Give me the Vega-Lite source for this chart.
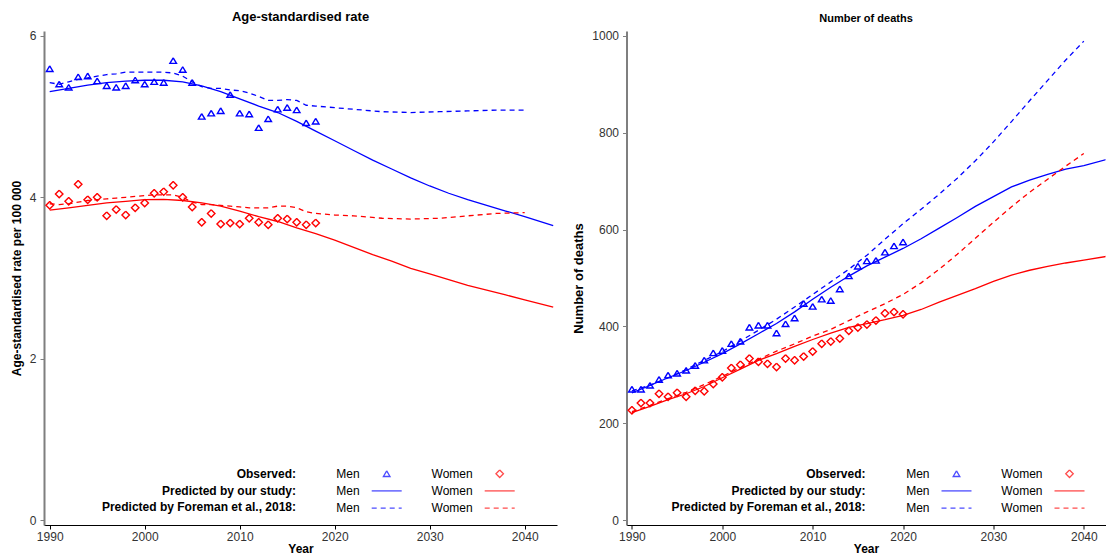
{
  "$schema": "https://vega.github.io/schema/vega-lite/v6.json",
  "padding": {"left": 10, "top": 10, "right": 0, "bottom": 0},
  "spacing": 14.5,
  "config": {
    "font": "Liberation Sans",
    "view": {"stroke": null},
    "axis": {"grid": false, "labelFont": "Liberation Sans", "labelFontSize": 12, "labelColor": "#333333", "titleFont": "Liberation Sans", "titleFontSize": 12, "titleFontWeight": "bold", "titleColor": "#000000", "tickSize": 4},
    "title": {"font": "Liberation Sans", "fontWeight": "bold", "color": "#000000", "anchor": "middle", "offset": 6},
    "legend": {"padding": 0, "labelFont": "Liberation Sans", "labelFontSize": 12, "labelColor": "#000000", "labelLimit": 400}
  },
  "resolve": {
    "scale": {"stroke": "independent", "shape": "independent", "strokeDash": "independent", "opacity": "independent"},
    "legend": {"stroke": "independent", "shape": "independent", "strokeDash": "independent", "opacity": "independent"}
  },
  "datasets": {
    "rate": [
      {"series": "Observed", "key": "Observed|Men", "year": 1990, "value": 5.59}, {"series": "Observed", "key": "Observed|Men", "year": 1991, "value": 5.40}, {"series": "Observed", "key": "Observed|Men", "year": 1992, "value": 5.36}, {"series": "Observed", "key": "Observed|Men", "year": 1993, "value": 5.49}, {"series": "Observed", "key": "Observed|Men", "year": 1994, "value": 5.50}, {"series": "Observed", "key": "Observed|Men", "year": 1995, "value": 5.44}, {"series": "Observed", "key": "Observed|Men", "year": 1996, "value": 5.38}, {"series": "Observed", "key": "Observed|Men", "year": 1997, "value": 5.36}, {"series": "Observed", "key": "Observed|Men", "year": 1998, "value": 5.38}, {"series": "Observed", "key": "Observed|Men", "year": 1999, "value": 5.45}, {"series": "Observed", "key": "Observed|Men", "year": 2000, "value": 5.40}, {"series": "Observed", "key": "Observed|Men", "year": 2001, "value": 5.43}, {"series": "Observed", "key": "Observed|Men", "year": 2002, "value": 5.42}, {"series": "Observed", "key": "Observed|Men", "year": 2003, "value": 5.69}, {"series": "Observed", "key": "Observed|Men", "year": 2004, "value": 5.58}, {"series": "Observed", "key": "Observed|Men", "year": 2005, "value": 5.42}, {"series": "Observed", "key": "Observed|Men", "year": 2006, "value": 5.00}, {"series": "Observed", "key": "Observed|Men", "year": 2007, "value": 5.04}, {"series": "Observed", "key": "Observed|Men", "year": 2008, "value": 5.07}, {"series": "Observed", "key": "Observed|Men", "year": 2009, "value": 5.27}, {"series": "Observed", "key": "Observed|Men", "year": 2010, "value": 5.04}, {"series": "Observed", "key": "Observed|Men", "year": 2011, "value": 5.03}, {"series": "Observed", "key": "Observed|Men", "year": 2012, "value": 4.86}, {"series": "Observed", "key": "Observed|Men", "year": 2013, "value": 4.97}, {"series": "Observed", "key": "Observed|Men", "year": 2014, "value": 5.09}, {"series": "Observed", "key": "Observed|Men", "year": 2015, "value": 5.11}, {"series": "Observed", "key": "Observed|Men", "year": 2016, "value": 5.08}, {"series": "Observed", "key": "Observed|Men", "year": 2017, "value": 4.92}, {"series": "Observed", "key": "Observed|Men", "year": 2018, "value": 4.94},
      {"series": "Observed", "key": "Observed|Women", "year": 1990, "value": 3.90}, {"series": "Observed", "key": "Observed|Women", "year": 1991, "value": 4.04}, {"series": "Observed", "key": "Observed|Women", "year": 1992, "value": 3.95}, {"series": "Observed", "key": "Observed|Women", "year": 1993, "value": 4.16}, {"series": "Observed", "key": "Observed|Women", "year": 1994, "value": 3.97}, {"series": "Observed", "key": "Observed|Women", "year": 1995, "value": 4.00}, {"series": "Observed", "key": "Observed|Women", "year": 1996, "value": 3.77}, {"series": "Observed", "key": "Observed|Women", "year": 1997, "value": 3.85}, {"series": "Observed", "key": "Observed|Women", "year": 1998, "value": 3.78}, {"series": "Observed", "key": "Observed|Women", "year": 1999, "value": 3.87}, {"series": "Observed", "key": "Observed|Women", "year": 2000, "value": 3.93}, {"series": "Observed", "key": "Observed|Women", "year": 2001, "value": 4.05}, {"series": "Observed", "key": "Observed|Women", "year": 2002, "value": 4.07}, {"series": "Observed", "key": "Observed|Women", "year": 2003, "value": 4.15}, {"series": "Observed", "key": "Observed|Women", "year": 2004, "value": 4.00}, {"series": "Observed", "key": "Observed|Women", "year": 2005, "value": 3.88}, {"series": "Observed", "key": "Observed|Women", "year": 2006, "value": 3.69}, {"series": "Observed", "key": "Observed|Women", "year": 2007, "value": 3.80}, {"series": "Observed", "key": "Observed|Women", "year": 2008, "value": 3.67}, {"series": "Observed", "key": "Observed|Women", "year": 2009, "value": 3.68}, {"series": "Observed", "key": "Observed|Women", "year": 2010, "value": 3.67}, {"series": "Observed", "key": "Observed|Women", "year": 2011, "value": 3.74}, {"series": "Observed", "key": "Observed|Women", "year": 2012, "value": 3.69}, {"series": "Observed", "key": "Observed|Women", "year": 2013, "value": 3.66}, {"series": "Observed", "key": "Observed|Women", "year": 2014, "value": 3.74}, {"series": "Observed", "key": "Observed|Women", "year": 2015, "value": 3.73}, {"series": "Observed", "key": "Observed|Women", "year": 2016, "value": 3.69}, {"series": "Observed", "key": "Observed|Women", "year": 2017, "value": 3.66}, {"series": "Observed", "key": "Observed|Women", "year": 2018, "value": 3.68},
      {"series": "Ours", "key": "Ours|Men", "year": 1990, "value": 5.31}, {"series": "Ours", "key": "Ours|Men", "year": 1992, "value": 5.35}, {"series": "Ours", "key": "Ours|Men", "year": 1994, "value": 5.39}, {"series": "Ours", "key": "Ours|Men", "year": 1996, "value": 5.42}, {"series": "Ours", "key": "Ours|Men", "year": 1998, "value": 5.44}, {"series": "Ours", "key": "Ours|Men", "year": 2000, "value": 5.45}, {"series": "Ours", "key": "Ours|Men", "year": 2002, "value": 5.45}, {"series": "Ours", "key": "Ours|Men", "year": 2004, "value": 5.43}, {"series": "Ours", "key": "Ours|Men", "year": 2006, "value": 5.38}, {"series": "Ours", "key": "Ours|Men", "year": 2008, "value": 5.31}, {"series": "Ours", "key": "Ours|Men", "year": 2010, "value": 5.22}, {"series": "Ours", "key": "Ours|Men", "year": 2012, "value": 5.13}, {"series": "Ours", "key": "Ours|Men", "year": 2014, "value": 5.05}, {"series": "Ours", "key": "Ours|Men", "year": 2016, "value": 4.94}, {"series": "Ours", "key": "Ours|Men", "year": 2018, "value": 4.82}, {"series": "Ours", "key": "Ours|Men", "year": 2020, "value": 4.70}, {"series": "Ours", "key": "Ours|Men", "year": 2022, "value": 4.58}, {"series": "Ours", "key": "Ours|Men", "year": 2024, "value": 4.46}, {"series": "Ours", "key": "Ours|Men", "year": 2026, "value": 4.35}, {"series": "Ours", "key": "Ours|Men", "year": 2028, "value": 4.24}, {"series": "Ours", "key": "Ours|Men", "year": 2030, "value": 4.14}, {"series": "Ours", "key": "Ours|Men", "year": 2032, "value": 4.05}, {"series": "Ours", "key": "Ours|Men", "year": 2034, "value": 3.97}, {"series": "Ours", "key": "Ours|Men", "year": 2036, "value": 3.90}, {"series": "Ours", "key": "Ours|Men", "year": 2038, "value": 3.83}, {"series": "Ours", "key": "Ours|Men", "year": 2040, "value": 3.76}, {"series": "Ours", "key": "Ours|Men", "year": 2043, "value": 3.65},
      {"series": "Ours", "key": "Ours|Women", "year": 1990, "value": 3.84}, {"series": "Ours", "key": "Ours|Women", "year": 1992, "value": 3.87}, {"series": "Ours", "key": "Ours|Women", "year": 1994, "value": 3.90}, {"series": "Ours", "key": "Ours|Women", "year": 1996, "value": 3.93}, {"series": "Ours", "key": "Ours|Women", "year": 1998, "value": 3.95}, {"series": "Ours", "key": "Ours|Women", "year": 2000, "value": 3.97}, {"series": "Ours", "key": "Ours|Women", "year": 2002, "value": 3.975}, {"series": "Ours", "key": "Ours|Women", "year": 2004, "value": 3.96}, {"series": "Ours", "key": "Ours|Women", "year": 2006, "value": 3.93}, {"series": "Ours", "key": "Ours|Women", "year": 2008, "value": 3.89}, {"series": "Ours", "key": "Ours|Women", "year": 2010, "value": 3.83}, {"series": "Ours", "key": "Ours|Women", "year": 2012, "value": 3.76}, {"series": "Ours", "key": "Ours|Women", "year": 2014, "value": 3.70}, {"series": "Ours", "key": "Ours|Women", "year": 2016, "value": 3.62}, {"series": "Ours", "key": "Ours|Women", "year": 2018, "value": 3.55}, {"series": "Ours", "key": "Ours|Women", "year": 2020, "value": 3.47}, {"series": "Ours", "key": "Ours|Women", "year": 2022, "value": 3.38}, {"series": "Ours", "key": "Ours|Women", "year": 2024, "value": 3.29}, {"series": "Ours", "key": "Ours|Women", "year": 2026, "value": 3.21}, {"series": "Ours", "key": "Ours|Women", "year": 2028, "value": 3.12}, {"series": "Ours", "key": "Ours|Women", "year": 2030, "value": 3.05}, {"series": "Ours", "key": "Ours|Women", "year": 2032, "value": 2.98}, {"series": "Ours", "key": "Ours|Women", "year": 2034, "value": 2.91}, {"series": "Ours", "key": "Ours|Women", "year": 2036, "value": 2.85}, {"series": "Ours", "key": "Ours|Women", "year": 2038, "value": 2.79}, {"series": "Ours", "key": "Ours|Women", "year": 2040, "value": 2.73}, {"series": "Ours", "key": "Ours|Women", "year": 2043, "value": 2.64},
      {"series": "Foreman", "key": "Foreman|Men", "year": 1990, "value": 5.42}, {"series": "Foreman", "key": "Foreman|Men", "year": 1991, "value": 5.40}, {"series": "Foreman", "key": "Foreman|Men", "year": 1992, "value": 5.43}, {"series": "Foreman", "key": "Foreman|Men", "year": 1993, "value": 5.46}, {"series": "Foreman", "key": "Foreman|Men", "year": 1994, "value": 5.48}, {"series": "Foreman", "key": "Foreman|Men", "year": 1995, "value": 5.50}, {"series": "Foreman", "key": "Foreman|Men", "year": 1996, "value": 5.52}, {"series": "Foreman", "key": "Foreman|Men", "year": 1997, "value": 5.53}, {"series": "Foreman", "key": "Foreman|Men", "year": 1998, "value": 5.55}, {"series": "Foreman", "key": "Foreman|Men", "year": 1999, "value": 5.55}, {"series": "Foreman", "key": "Foreman|Men", "year": 2000, "value": 5.55}, {"series": "Foreman", "key": "Foreman|Men", "year": 2001, "value": 5.55}, {"series": "Foreman", "key": "Foreman|Men", "year": 2002, "value": 5.55}, {"series": "Foreman", "key": "Foreman|Men", "year": 2003, "value": 5.54}, {"series": "Foreman", "key": "Foreman|Men", "year": 2004, "value": 5.50}, {"series": "Foreman", "key": "Foreman|Men", "year": 2005, "value": 5.43}, {"series": "Foreman", "key": "Foreman|Men", "year": 2006, "value": 5.37}, {"series": "Foreman", "key": "Foreman|Men", "year": 2007, "value": 5.35}, {"series": "Foreman", "key": "Foreman|Men", "year": 2008, "value": 5.35}, {"series": "Foreman", "key": "Foreman|Men", "year": 2009, "value": 5.33}, {"series": "Foreman", "key": "Foreman|Men", "year": 2010, "value": 5.32}, {"series": "Foreman", "key": "Foreman|Men", "year": 2011, "value": 5.29}, {"series": "Foreman", "key": "Foreman|Men", "year": 2012, "value": 5.25}, {"series": "Foreman", "key": "Foreman|Men", "year": 2013, "value": 5.20}, {"series": "Foreman", "key": "Foreman|Men", "year": 2014, "value": 5.20}, {"series": "Foreman", "key": "Foreman|Men", "year": 2015, "value": 5.21}, {"series": "Foreman", "key": "Foreman|Men", "year": 2016, "value": 5.20}, {"series": "Foreman", "key": "Foreman|Men", "year": 2017, "value": 5.14}, {"series": "Foreman", "key": "Foreman|Men", "year": 2018, "value": 5.13}, {"series": "Foreman", "key": "Foreman|Men", "year": 2020, "value": 5.11}, {"series": "Foreman", "key": "Foreman|Men", "year": 2022, "value": 5.09}, {"series": "Foreman", "key": "Foreman|Men", "year": 2025, "value": 5.06}, {"series": "Foreman", "key": "Foreman|Men", "year": 2028, "value": 5.05}, {"series": "Foreman", "key": "Foreman|Men", "year": 2031, "value": 5.06}, {"series": "Foreman", "key": "Foreman|Men", "year": 2034, "value": 5.07}, {"series": "Foreman", "key": "Foreman|Men", "year": 2037, "value": 5.08}, {"series": "Foreman", "key": "Foreman|Men", "year": 2040, "value": 5.08},
      {"series": "Foreman", "key": "Foreman|Women", "year": 1990, "value": 3.92}, {"series": "Foreman", "key": "Foreman|Women", "year": 1991, "value": 3.91}, {"series": "Foreman", "key": "Foreman|Women", "year": 1992, "value": 3.92}, {"series": "Foreman", "key": "Foreman|Women", "year": 1993, "value": 3.94}, {"series": "Foreman", "key": "Foreman|Women", "year": 1994, "value": 3.96}, {"series": "Foreman", "key": "Foreman|Women", "year": 1995, "value": 3.97}, {"series": "Foreman", "key": "Foreman|Women", "year": 1996, "value": 3.98}, {"series": "Foreman", "key": "Foreman|Women", "year": 1997, "value": 3.99}, {"series": "Foreman", "key": "Foreman|Women", "year": 1998, "value": 4.00}, {"series": "Foreman", "key": "Foreman|Women", "year": 1999, "value": 4.01}, {"series": "Foreman", "key": "Foreman|Women", "year": 2000, "value": 4.02}, {"series": "Foreman", "key": "Foreman|Women", "year": 2001, "value": 4.03}, {"series": "Foreman", "key": "Foreman|Women", "year": 2002, "value": 4.03}, {"series": "Foreman", "key": "Foreman|Women", "year": 2003, "value": 4.03}, {"series": "Foreman", "key": "Foreman|Women", "year": 2004, "value": 4.00}, {"series": "Foreman", "key": "Foreman|Women", "year": 2005, "value": 3.94}, {"series": "Foreman", "key": "Foreman|Women", "year": 2006, "value": 3.91}, {"series": "Foreman", "key": "Foreman|Women", "year": 2007, "value": 3.91}, {"series": "Foreman", "key": "Foreman|Women", "year": 2008, "value": 3.90}, {"series": "Foreman", "key": "Foreman|Women", "year": 2009, "value": 3.89}, {"series": "Foreman", "key": "Foreman|Women", "year": 2010, "value": 3.88}, {"series": "Foreman", "key": "Foreman|Women", "year": 2011, "value": 3.87}, {"series": "Foreman", "key": "Foreman|Women", "year": 2012, "value": 3.87}, {"series": "Foreman", "key": "Foreman|Women", "year": 2013, "value": 3.87}, {"series": "Foreman", "key": "Foreman|Women", "year": 2014, "value": 3.89}, {"series": "Foreman", "key": "Foreman|Women", "year": 2015, "value": 3.89}, {"series": "Foreman", "key": "Foreman|Women", "year": 2016, "value": 3.87}, {"series": "Foreman", "key": "Foreman|Women", "year": 2017, "value": 3.82}, {"series": "Foreman", "key": "Foreman|Women", "year": 2018, "value": 3.80}, {"series": "Foreman", "key": "Foreman|Women", "year": 2020, "value": 3.78}, {"series": "Foreman", "key": "Foreman|Women", "year": 2022, "value": 3.77}, {"series": "Foreman", "key": "Foreman|Women", "year": 2025, "value": 3.74}, {"series": "Foreman", "key": "Foreman|Women", "year": 2028, "value": 3.73}, {"series": "Foreman", "key": "Foreman|Women", "year": 2031, "value": 3.74}, {"series": "Foreman", "key": "Foreman|Women", "year": 2034, "value": 3.77}, {"series": "Foreman", "key": "Foreman|Women", "year": 2037, "value": 3.80}, {"series": "Foreman", "key": "Foreman|Women", "year": 2040, "value": 3.81}
    ],
    "deaths": [
      {"series": "Observed", "key": "Observed|Men", "year": 1990, "value": 270}, {"series": "Observed", "key": "Observed|Men", "year": 1991, "value": 270}, {"series": "Observed", "key": "Observed|Men", "year": 1992, "value": 278}, {"series": "Observed", "key": "Observed|Men", "year": 1993, "value": 290}, {"series": "Observed", "key": "Observed|Men", "year": 1994, "value": 299}, {"series": "Observed", "key": "Observed|Men", "year": 1995, "value": 303}, {"series": "Observed", "key": "Observed|Men", "year": 1996, "value": 309}, {"series": "Observed", "key": "Observed|Men", "year": 1997, "value": 319}, {"series": "Observed", "key": "Observed|Men", "year": 1998, "value": 330}, {"series": "Observed", "key": "Observed|Men", "year": 1999, "value": 345}, {"series": "Observed", "key": "Observed|Men", "year": 2000, "value": 350}, {"series": "Observed", "key": "Observed|Men", "year": 2001, "value": 364}, {"series": "Observed", "key": "Observed|Men", "year": 2002, "value": 369}, {"series": "Observed", "key": "Observed|Men", "year": 2003, "value": 398}, {"series": "Observed", "key": "Observed|Men", "year": 2004, "value": 402}, {"series": "Observed", "key": "Observed|Men", "year": 2005, "value": 402}, {"series": "Observed", "key": "Observed|Men", "year": 2006, "value": 386}, {"series": "Observed", "key": "Observed|Men", "year": 2007, "value": 405}, {"series": "Observed", "key": "Observed|Men", "year": 2008, "value": 417}, {"series": "Observed", "key": "Observed|Men", "year": 2009, "value": 447}, {"series": "Observed", "key": "Observed|Men", "year": 2010, "value": 441}, {"series": "Observed", "key": "Observed|Men", "year": 2011, "value": 456}, {"series": "Observed", "key": "Observed|Men", "year": 2012, "value": 453}, {"series": "Observed", "key": "Observed|Men", "year": 2013, "value": 477}, {"series": "Observed", "key": "Observed|Men", "year": 2014, "value": 504}, {"series": "Observed", "key": "Observed|Men", "year": 2015, "value": 524}, {"series": "Observed", "key": "Observed|Men", "year": 2016, "value": 535}, {"series": "Observed", "key": "Observed|Men", "year": 2017, "value": 536}, {"series": "Observed", "key": "Observed|Men", "year": 2018, "value": 553}, {"series": "Observed", "key": "Observed|Men", "year": 2019, "value": 566}, {"series": "Observed", "key": "Observed|Men", "year": 2020, "value": 574},
      {"series": "Observed", "key": "Observed|Women", "year": 1990, "value": 227}, {"series": "Observed", "key": "Observed|Women", "year": 1991, "value": 242}, {"series": "Observed", "key": "Observed|Women", "year": 1992, "value": 242}, {"series": "Observed", "key": "Observed|Women", "year": 1993, "value": 261}, {"series": "Observed", "key": "Observed|Women", "year": 1994, "value": 255}, {"series": "Observed", "key": "Observed|Women", "year": 1995, "value": 263}, {"series": "Observed", "key": "Observed|Women", "year": 1996, "value": 255}, {"series": "Observed", "key": "Observed|Women", "year": 1997, "value": 267}, {"series": "Observed", "key": "Observed|Women", "year": 1998, "value": 266}, {"series": "Observed", "key": "Observed|Women", "year": 1999, "value": 281}, {"series": "Observed", "key": "Observed|Women", "year": 2000, "value": 295}, {"series": "Observed", "key": "Observed|Women", "year": 2001, "value": 314}, {"series": "Observed", "key": "Observed|Women", "year": 2002, "value": 321}, {"series": "Observed", "key": "Observed|Women", "year": 2003, "value": 334}, {"series": "Observed", "key": "Observed|Women", "year": 2004, "value": 327}, {"series": "Observed", "key": "Observed|Women", "year": 2005, "value": 323}, {"series": "Observed", "key": "Observed|Women", "year": 2006, "value": 316}, {"series": "Observed", "key": "Observed|Women", "year": 2007, "value": 334}, {"series": "Observed", "key": "Observed|Women", "year": 2008, "value": 330}, {"series": "Observed", "key": "Observed|Women", "year": 2009, "value": 338}, {"series": "Observed", "key": "Observed|Women", "year": 2010, "value": 348}, {"series": "Observed", "key": "Observed|Women", "year": 2011, "value": 364}, {"series": "Observed", "key": "Observed|Women", "year": 2012, "value": 369}, {"series": "Observed", "key": "Observed|Women", "year": 2013, "value": 375}, {"series": "Observed", "key": "Observed|Women", "year": 2014, "value": 391}, {"series": "Observed", "key": "Observed|Women", "year": 2015, "value": 398}, {"series": "Observed", "key": "Observed|Women", "year": 2016, "value": 404}, {"series": "Observed", "key": "Observed|Women", "year": 2017, "value": 412}, {"series": "Observed", "key": "Observed|Women", "year": 2018, "value": 427}, {"series": "Observed", "key": "Observed|Women", "year": 2019, "value": 430}, {"series": "Observed", "key": "Observed|Women", "year": 2020, "value": 425},
      {"series": "Ours", "key": "Ours|Men", "year": 1990, "value": 263}, {"series": "Ours", "key": "Ours|Men", "year": 1992, "value": 278}, {"series": "Ours", "key": "Ours|Men", "year": 1994, "value": 294}, {"series": "Ours", "key": "Ours|Men", "year": 1996, "value": 309}, {"series": "Ours", "key": "Ours|Men", "year": 1998, "value": 326}, {"series": "Ours", "key": "Ours|Men", "year": 2000, "value": 344}, {"series": "Ours", "key": "Ours|Men", "year": 2002, "value": 364}, {"series": "Ours", "key": "Ours|Men", "year": 2004, "value": 385}, {"series": "Ours", "key": "Ours|Men", "year": 2006, "value": 406}, {"series": "Ours", "key": "Ours|Men", "year": 2008, "value": 430}, {"series": "Ours", "key": "Ours|Men", "year": 2010, "value": 456}, {"series": "Ours", "key": "Ours|Men", "year": 2012, "value": 481}, {"series": "Ours", "key": "Ours|Men", "year": 2014, "value": 504}, {"series": "Ours", "key": "Ours|Men", "year": 2016, "value": 525}, {"series": "Ours", "key": "Ours|Men", "year": 2018, "value": 543}, {"series": "Ours", "key": "Ours|Men", "year": 2020, "value": 561}, {"series": "Ours", "key": "Ours|Men", "year": 2022, "value": 581}, {"series": "Ours", "key": "Ours|Men", "year": 2024, "value": 603}, {"series": "Ours", "key": "Ours|Men", "year": 2026, "value": 625}, {"series": "Ours", "key": "Ours|Men", "year": 2028, "value": 648}, {"series": "Ours", "key": "Ours|Men", "year": 2030, "value": 668}, {"series": "Ours", "key": "Ours|Men", "year": 2032, "value": 688}, {"series": "Ours", "key": "Ours|Men", "year": 2034, "value": 702}, {"series": "Ours", "key": "Ours|Men", "year": 2036, "value": 714}, {"series": "Ours", "key": "Ours|Men", "year": 2038, "value": 725}, {"series": "Ours", "key": "Ours|Men", "year": 2040, "value": 732}, {"series": "Ours", "key": "Ours|Men", "year": 2043, "value": 747},
      {"series": "Ours", "key": "Ours|Women", "year": 1990, "value": 222}, {"series": "Ours", "key": "Ours|Women", "year": 1992, "value": 235}, {"series": "Ours", "key": "Ours|Women", "year": 1994, "value": 249}, {"series": "Ours", "key": "Ours|Women", "year": 1996, "value": 261}, {"series": "Ours", "key": "Ours|Women", "year": 1998, "value": 276}, {"series": "Ours", "key": "Ours|Women", "year": 2000, "value": 294}, {"series": "Ours", "key": "Ours|Women", "year": 2002, "value": 312}, {"series": "Ours", "key": "Ours|Women", "year": 2004, "value": 330}, {"series": "Ours", "key": "Ours|Women", "year": 2006, "value": 344}, {"series": "Ours", "key": "Ours|Women", "year": 2008, "value": 359}, {"series": "Ours", "key": "Ours|Women", "year": 2010, "value": 373}, {"series": "Ours", "key": "Ours|Women", "year": 2012, "value": 386}, {"series": "Ours", "key": "Ours|Women", "year": 2014, "value": 398}, {"series": "Ours", "key": "Ours|Women", "year": 2016, "value": 406}, {"series": "Ours", "key": "Ours|Women", "year": 2018, "value": 414}, {"series": "Ours", "key": "Ours|Women", "year": 2020, "value": 423}, {"series": "Ours", "key": "Ours|Women", "year": 2022, "value": 435}, {"series": "Ours", "key": "Ours|Women", "year": 2024, "value": 450}, {"series": "Ours", "key": "Ours|Women", "year": 2026, "value": 464}, {"series": "Ours", "key": "Ours|Women", "year": 2028, "value": 478}, {"series": "Ours", "key": "Ours|Women", "year": 2030, "value": 493}, {"series": "Ours", "key": "Ours|Women", "year": 2032, "value": 506}, {"series": "Ours", "key": "Ours|Women", "year": 2034, "value": 516}, {"series": "Ours", "key": "Ours|Women", "year": 2036, "value": 524}, {"series": "Ours", "key": "Ours|Women", "year": 2038, "value": 531}, {"series": "Ours", "key": "Ours|Women", "year": 2040, "value": 537}, {"series": "Ours", "key": "Ours|Women", "year": 2043, "value": 546},
      {"series": "Foreman", "key": "Foreman|Men", "year": 1990, "value": 267}, {"series": "Foreman", "key": "Foreman|Men", "year": 1992, "value": 279}, {"series": "Foreman", "key": "Foreman|Men", "year": 1994, "value": 294}, {"series": "Foreman", "key": "Foreman|Men", "year": 1996, "value": 311}, {"series": "Foreman", "key": "Foreman|Men", "year": 1998, "value": 330}, {"series": "Foreman", "key": "Foreman|Men", "year": 2000, "value": 348}, {"series": "Foreman", "key": "Foreman|Men", "year": 2002, "value": 370}, {"series": "Foreman", "key": "Foreman|Men", "year": 2004, "value": 392}, {"series": "Foreman", "key": "Foreman|Men", "year": 2006, "value": 415}, {"series": "Foreman", "key": "Foreman|Men", "year": 2008, "value": 440}, {"series": "Foreman", "key": "Foreman|Men", "year": 2010, "value": 466}, {"series": "Foreman", "key": "Foreman|Men", "year": 2012, "value": 492}, {"series": "Foreman", "key": "Foreman|Men", "year": 2014, "value": 518}, {"series": "Foreman", "key": "Foreman|Men", "year": 2016, "value": 547}, {"series": "Foreman", "key": "Foreman|Men", "year": 2018, "value": 580}, {"series": "Foreman", "key": "Foreman|Men", "year": 2020, "value": 612}, {"series": "Foreman", "key": "Foreman|Men", "year": 2022, "value": 642}, {"series": "Foreman", "key": "Foreman|Men", "year": 2024, "value": 673}, {"series": "Foreman", "key": "Foreman|Men", "year": 2026, "value": 706}, {"series": "Foreman", "key": "Foreman|Men", "year": 2028, "value": 742}, {"series": "Foreman", "key": "Foreman|Men", "year": 2030, "value": 781}, {"series": "Foreman", "key": "Foreman|Men", "year": 2032, "value": 823}, {"series": "Foreman", "key": "Foreman|Men", "year": 2034, "value": 866}, {"series": "Foreman", "key": "Foreman|Men", "year": 2036, "value": 908}, {"series": "Foreman", "key": "Foreman|Men", "year": 2038, "value": 950}, {"series": "Foreman", "key": "Foreman|Men", "year": 2040, "value": 989},
      {"series": "Foreman", "key": "Foreman|Women", "year": 1990, "value": 224}, {"series": "Foreman", "key": "Foreman|Women", "year": 1992, "value": 237}, {"series": "Foreman", "key": "Foreman|Women", "year": 1994, "value": 251}, {"series": "Foreman", "key": "Foreman|Women", "year": 1996, "value": 264}, {"series": "Foreman", "key": "Foreman|Women", "year": 1998, "value": 280}, {"series": "Foreman", "key": "Foreman|Women", "year": 2000, "value": 297}, {"series": "Foreman", "key": "Foreman|Women", "year": 2002, "value": 315}, {"series": "Foreman", "key": "Foreman|Women", "year": 2004, "value": 332}, {"series": "Foreman", "key": "Foreman|Women", "year": 2006, "value": 349}, {"series": "Foreman", "key": "Foreman|Women", "year": 2008, "value": 364}, {"series": "Foreman", "key": "Foreman|Women", "year": 2010, "value": 380}, {"series": "Foreman", "key": "Foreman|Women", "year": 2012, "value": 394}, {"series": "Foreman", "key": "Foreman|Women", "year": 2014, "value": 412}, {"series": "Foreman", "key": "Foreman|Women", "year": 2016, "value": 430}, {"series": "Foreman", "key": "Foreman|Women", "year": 2018, "value": 447}, {"series": "Foreman", "key": "Foreman|Women", "year": 2020, "value": 466}, {"series": "Foreman", "key": "Foreman|Women", "year": 2022, "value": 490}, {"series": "Foreman", "key": "Foreman|Women", "year": 2024, "value": 518}, {"series": "Foreman", "key": "Foreman|Women", "year": 2026, "value": 549}, {"series": "Foreman", "key": "Foreman|Women", "year": 2028, "value": 582}, {"series": "Foreman", "key": "Foreman|Women", "year": 2030, "value": 615}, {"series": "Foreman", "key": "Foreman|Women", "year": 2032, "value": 647}, {"series": "Foreman", "key": "Foreman|Women", "year": 2034, "value": 677}, {"series": "Foreman", "key": "Foreman|Women", "year": 2036, "value": 704}, {"series": "Foreman", "key": "Foreman|Women", "year": 2038, "value": 731}, {"series": "Foreman", "key": "Foreman|Women", "year": 2040, "value": 757}
    ]
  },
  "hconcat": [
    {
      "width": 513,
      "height": 494,
      "title": {"text": "Age-standardised rate", "fontSize": 13},
      "data": {"name": "rate"},
      "encoding": {
        "x": {"field": "year", "type": "quantitative", "scale": {"domain": [1989.4, 2043.4], "nice": false, "zero": false},
              "axis": {"values": [1990, 2000, 2010, 2020, 2030, 2040], "format": "d", "title": "Year", "labelFlush": false, "domainColor": "#000000", "domainWidth": 1.2, "tickColor": "#000000", "tickWidth": 1, "labelPadding": 2, "titlePadding": 1}},
        "y": {"field": "value", "type": "quantitative", "scale": {"domain": [-0.06, 6.06], "nice": false, "zero": false},
              "axis": {"values": [0, 2, 4, 6], "title": "Age-standardised rate per 100 000", "domainColor": "#7f7f7f", "domainWidth": 2, "tickColor": "#7f7f7f", "tickWidth": 1, "labelPadding": 4, "titlePadding": 6}},
        "stroke": {"field": "key", "type": "nominal",
                  "scale": {"domain": ["Observed|Men", "Ours|Men", "Foreman|Men", "Observed|Women", "Ours|Women", "Foreman|Women"], "range": ["#0000ff", "#0000ff", "#0000ff", "#ff0000", "#ff0000", "#ff0000"]},
                  "legend": {"orient": "none", "legendX": 334.2, "legendY": 434.2, "title": null, "columns": 2, "columnPadding": 26, "rowPadding": 2.2, "symbolSize": 225, "symbolStrokeWidth": 1.3, "symbolFillColor": "transparent", "symbolOffset": 0, "labelOffset": -35.5, "labelAlign": "right", "labelExpr": "split(datum.label, '|')[1]"}},
        "strokeDash": {"field": "key", "type": "nominal",
                  "scale": {"domain": ["Observed|Men", "Ours|Men", "Foreman|Men", "Observed|Women", "Ours|Women", "Foreman|Women"], "range": [[1000, 0], [1000, 0], [5, 4], [1000, 0], [1000, 0], [5, 4]]},
                  "legend": {"orient": "none", "legendX": 334.2, "legendY": 434.2, "title": null, "columns": 2, "columnPadding": 26, "rowPadding": 2.2, "symbolSize": 225, "symbolStrokeWidth": 1.3, "symbolFillColor": "transparent", "symbolOffset": 0, "labelOffset": -35.5, "labelAlign": "right", "labelExpr": "split(datum.label, '|')[1]"}},
        "opacity": {"field": "series", "type": "nominal",
                  "scale": {"domain": ["Observed", "Ours", "Foreman"], "range": [1, 1, 1]},
                  "legend": {"orient": "none", "legendX": 240, "legendY": 437, "title": null, "rowPadding": 4.7, "direction": "vertical", "symbolOpacity": 0, "symbolSize": 0, "labelOffset": 0, "labelAlign": "right", "labelFontWeight": "bold",
                             "labelExpr": "datum.label == 'Observed' ? 'Observed:' : datum.label == 'Ours' ? 'Predicted by our study:' : 'Predicted by Foreman et al., 2018:'"}}
      },
      "layer": [
        {"transform": [{"filter": {"field": "series", "equal": "Observed"}}], "mark": {"type": "point", "filled": false, "fill": "transparent", "strokeWidth": 1.4, "size": 225},
         "encoding": {"shape": {"field": "key", "type": "nominal",
                  "scale": {"domain": ["Observed|Men", "Ours|Men", "Foreman|Men", "Observed|Women", "Ours|Women", "Foreman|Women"], "range": ["M0,-0.4L-0.44,0.34L0.44,0.34Z", "M-2,0L2,0", "M-2,0L2,0", "M0,-0.5L0.5,0L0,0.5L-0.5,0Z", "M-2,0L2,0", "M-2,0L2,0"]},
                  "legend": {"orient": "none", "legendX": 334.2, "legendY": 434.2, "title": null, "columns": 2, "columnPadding": 26, "rowPadding": 2.2, "symbolSize": 225, "symbolStrokeWidth": 1.3, "symbolFillColor": "transparent", "symbolOffset": 0, "labelOffset": -35.5, "labelAlign": "right", "labelExpr": "split(datum.label, '|')[1]"}}}},
        {"transform": [{"filter": {"field": "series", "equal": "Ours"}}], "mark": {"type": "line", "strokeWidth": 1.3, "clip": true}},
        {"transform": [{"filter": {"field": "series", "equal": "Foreman"}}], "mark": {"type": "line", "strokeWidth": 1.3, "clip": true}}
      ]
    },
    {
      "width": 479,
      "height": 494,
      "title": {"text": "Number of deaths", "fontSize": 11},
      "data": {"name": "deaths"},
      "encoding": {
        "x": {"field": "year", "type": "quantitative", "scale": {"domain": [1989.4, 2042.4], "nice": false, "zero": false},
              "axis": {"values": [1990, 2000, 2010, 2020, 2030, 2040], "format": "d", "title": "Year", "labelFlush": false, "domainColor": "#000000", "domainWidth": 1.2, "tickColor": "#000000", "tickWidth": 1, "labelPadding": 2, "titlePadding": 1}},
        "y": {"field": "value", "type": "quantitative", "scale": {"domain": [-10, 1010], "nice": false, "zero": false},
              "axis": {"values": [0, 200, 400, 600, 800, 1000], "format": "d", "title": "Number of deaths", "titleFontSize": 13, "domainColor": "#7f7f7f", "domainWidth": 2, "tickColor": "#7f7f7f", "tickWidth": 1, "labelPadding": 4, "titlePadding": 6.5}},
        "stroke": {"field": "key", "type": "nominal",
                  "scale": {"domain": ["Observed|Men", "Ours|Men", "Foreman|Men", "Observed|Women", "Ours|Women", "Foreman|Women"], "range": ["#0000ff", "#0000ff", "#0000ff", "#ff0000", "#ff0000", "#ff0000"]},
                  "legend": {"orient": "none", "legendX": 321.5, "legendY": 434.2, "title": null, "columns": 2, "columnPadding": 26, "rowPadding": 2.2, "symbolSize": 225, "symbolStrokeWidth": 1.3, "symbolFillColor": "transparent", "symbolOffset": 0, "labelOffset": -35.5, "labelAlign": "right", "labelExpr": "split(datum.label, '|')[1]"}},
        "strokeDash": {"field": "key", "type": "nominal",
                  "scale": {"domain": ["Observed|Men", "Ours|Men", "Foreman|Men", "Observed|Women", "Ours|Women", "Foreman|Women"], "range": [[1000, 0], [1000, 0], [5, 4], [1000, 0], [1000, 0], [5, 4]]},
                  "legend": {"orient": "none", "legendX": 321.5, "legendY": 434.2, "title": null, "columns": 2, "columnPadding": 26, "rowPadding": 2.2, "symbolSize": 225, "symbolStrokeWidth": 1.3, "symbolFillColor": "transparent", "symbolOffset": 0, "labelOffset": -35.5, "labelAlign": "right", "labelExpr": "split(datum.label, '|')[1]"}},
        "opacity": {"field": "series", "type": "nominal",
                  "scale": {"domain": ["Observed", "Ours", "Foreman"], "range": [1, 1, 1]},
                  "legend": {"orient": "none", "legendX": 227, "legendY": 437, "title": null, "rowPadding": 4.7, "direction": "vertical", "symbolOpacity": 0, "symbolSize": 0, "labelOffset": 0, "labelAlign": "right", "labelFontWeight": "bold",
                             "labelExpr": "datum.label == 'Observed' ? 'Observed:' : datum.label == 'Ours' ? 'Predicted by our study:' : 'Predicted by Foreman et al., 2018:'"}}
      },
      "layer": [
        {"transform": [{"filter": {"field": "series", "equal": "Observed"}}], "mark": {"type": "point", "filled": false, "fill": "transparent", "strokeWidth": 1.4, "size": 225},
         "encoding": {"shape": {"field": "key", "type": "nominal",
                  "scale": {"domain": ["Observed|Men", "Ours|Men", "Foreman|Men", "Observed|Women", "Ours|Women", "Foreman|Women"], "range": ["M0,-0.4L-0.44,0.34L0.44,0.34Z", "M-2,0L2,0", "M-2,0L2,0", "M0,-0.5L0.5,0L0,0.5L-0.5,0Z", "M-2,0L2,0", "M-2,0L2,0"]},
                  "legend": {"orient": "none", "legendX": 321.5, "legendY": 434.2, "title": null, "columns": 2, "columnPadding": 26, "rowPadding": 2.2, "symbolSize": 225, "symbolStrokeWidth": 1.3, "symbolFillColor": "transparent", "symbolOffset": 0, "labelOffset": -35.5, "labelAlign": "right", "labelExpr": "split(datum.label, '|')[1]"}}}},
        {"transform": [{"filter": {"field": "series", "equal": "Ours"}}], "mark": {"type": "line", "strokeWidth": 1.3, "clip": true}},
        {"transform": [{"filter": {"field": "series", "equal": "Foreman"}}], "mark": {"type": "line", "strokeWidth": 1.3, "clip": true}}
      ]
    }
  ]
}
